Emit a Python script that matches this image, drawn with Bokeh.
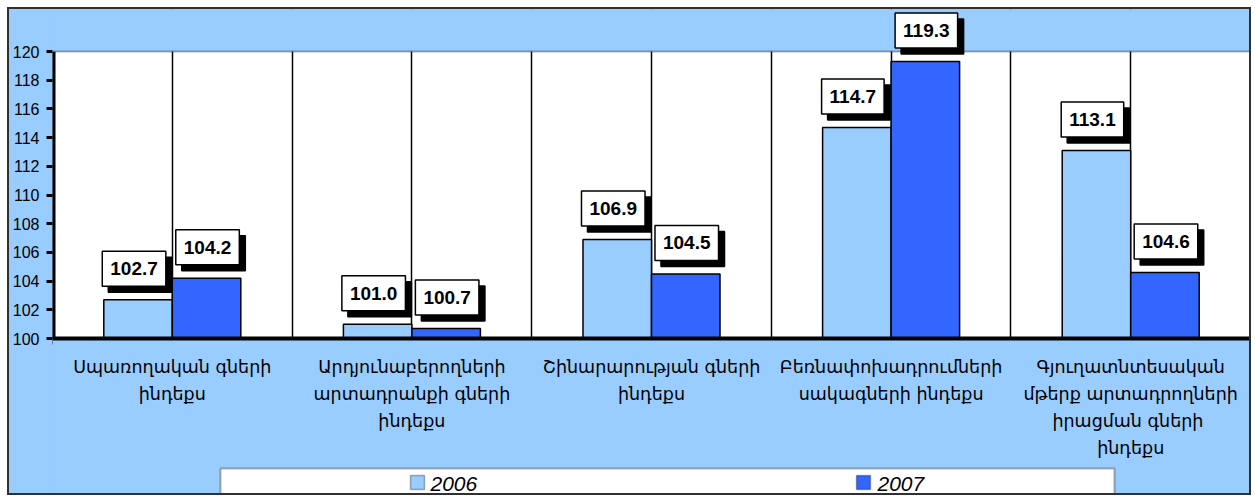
from bokeh.plotting import figure
from bokeh.models import FixedTicker, Label, BoxAnnotation, Range1d, Grid, Span
from bokeh.embed import file_html
from bokeh.resources import INLINE

categories = [
    "Սպառողական գների\nինդեքս",
    "Արդյունաբերողների\nարտադրանքի գների\nինդեքս",
    "Շինարարության գների\nինդեքս",
    "Բեռնափոխադրումների\nսակագների ինդեքս",
    "Գյուղատնտեսական\nմթերք արտադրողների\nիրացման  գների\nինդեքս",
]
years = ["2006", "2007"]
v2006 = [102.7, 101.0, 106.9, 114.7, 113.1]
v2007 = [104.2, 100.7, 104.5, 119.3, 104.6]
y_ticks = [100, 102, 104, 106, 108, 110, 112, 114, 116, 118, 120]

C2006 = "#99CCFF"
C2007 = "#3366FF"
BG = "#99CCFF"

# layout constants (canvas pixels)
W, H = 1244, 488
FL, FR = 43, 1241          # frame left / right
Y120, Y100 = 42, 329       # canvas rows of 120 and 100
YMIN, YMAX = 100, 120
n = len(categories)
PPX = (FR - FL) / n
PPY = (Y100 - Y120) / (YMAX - YMIN)

def dx(px):   # canvas px -> data x
    return (px - FL) / PPX

def dy(py):   # canvas px -> data y
    return YMIN + (Y100 - py) / PPY

p = figure(width=W, height=H, x_range=Range1d(0, n), y_range=Range1d(dy(H), dy(0)),
           x_axis_location=None, output_backend="svg", toolbar_location=None,
           min_border_left=FL, min_border_right=W - FR, min_border_top=0, min_border_bottom=0)
p.background_fill_color = None
p.border_fill_color = None
p.outline_line_color = None
p.styles = {"border": "2px solid #303030", "margin-left": "7px", "margin-top": "7px",
            "background-color": BG}
p.ygrid.visible = False
p.xgrid.visible = False

centers = [i + 0.5 for i in range(n)]
bw = 68.5 / PPX
x06 = [c - bw / 2 for c in centers]
x07 = [c + bw / 2 for c in centers]

# white plot area
p.add_layout(BoxAnnotation(left=0, right=n, bottom=YMIN, top=YMAX, fill_color="white",
                           fill_alpha=1, line_color=None, level="underlay"))

# vertical grid lines
p.add_layout(Grid(dimension=0, ticker=FixedTicker(ticks=[k * 0.5 for k in range(1, 2 * n)]),
                  grid_line_color="black", grid_line_width=1.5))

p.vbar(x=x06, top=v2006, bottom=YMIN, width=bw, fill_color=C2006, line_color="black", line_width=1.5)
p.vbar(x=x07, top=v2007, bottom=YMIN, width=bw, fill_color=C2007, line_color="black", line_width=1.5)

# blue surroundings (hide grid lines outside the plot area)
p.add_layout(BoxAnnotation(bottom=YMAX, fill_color=BG, fill_alpha=1, line_color=None))
p.add_layout(BoxAnnotation(top=YMIN, fill_color=BG, fill_alpha=1, line_color=None))

# plot-area outline (top, right)
p.add_layout(BoxAnnotation(left=0, right=n, bottom=YMIN, top=YMAX, fill_alpha=0,
                           line_color="black", line_width=2))

# y axis
ya = p.yaxis[0]
ya.ticker = FixedTicker(ticks=y_ticks, minor_ticks=[])
ya.bounds = (YMIN, YMAX)
ya.axis_line_color = None
ya.major_tick_out = 6
ya.major_tick_in = 0
ya.major_tick_line_width = 3
ya.minor_tick_out = 0
ya.major_label_text_font = "Liberation Sans"
ya.major_label_text_font_size = "16px"
ya.major_label_text_color = "black"
ya.major_label_standoff = 7
p.segment(x0=[0], y0=[YMIN], x1=[0], y1=[YMAX], line_color="black", line_width=6)

# category axis line at 100 with tick marks at category boundaries
p.add_layout(Span(location=YMIN, dimension="width", line_color="black", line_width=4))
bounds_x = list(range(n + 1))
p.segment(x0=bounds_x, y0=[YMIN] * (n + 1), x1=bounds_x, y1=[YMIN - 6 / PPY] * (n + 1),
          line_color="black", line_width=3)
for c, lab in zip(centers, categories):
    p.add_layout(Label(x=c, y=YMIN, y_offset=-18, text=lab, text_font="DejaVu Sans",
                       text_font_size="17.5px", text_align="center", text_baseline="top",
                       text_line_height=1.35, text_color="black"))

# data labels with shadow
def add_labels(xs, vals, xoff):
    for x, v in zip(xs, vals):
        txt = f"{v:.1f}"
        common = dict(x=x, y=v, text=txt, text_font="Liberation Sans", text_font_size="19px",
                      text_font_style="bold", text_align="center", text_baseline="middle",
                      padding=(8, 11), border_line_width=1.5, text_color="black")
        p.add_layout(Label(x_offset=xoff + 6, y_offset=31 - 6,
                           background_fill_color="black", border_line_color="black", **common))
        p.add_layout(Label(x_offset=xoff, y_offset=31,
                           background_fill_color="white", border_line_color="black", **common))

add_labels(x06, v2006, -4)
add_labels(x07, v2007, 1)

# legend (cut off at the bottom as in the original)
p.add_layout(BoxAnnotation(left=dx(211), right=dx(1105), top=dy(459),
                           fill_color="white", fill_alpha=1, line_color="black", line_width=2))
for sx, tx, col, yr in [(401, 421, C2006, years[0]), (847, 868, C2007, years[1])]:
    p.add_layout(BoxAnnotation(left=dx(sx), right=dx(sx + 14), top=dy(466), bottom=dy(480),
                               fill_color=col, fill_alpha=1, line_color="black", line_width=1.5))
    p.add_layout(Label(x=dx(tx), y=dy(474), text=yr,
                       text_font="Liberation Sans", text_font_size="21px", text_font_style="italic",
                       text_align="left", text_baseline="middle", text_color="black"))

open("out.html", "w").write(file_html(p, INLINE))
